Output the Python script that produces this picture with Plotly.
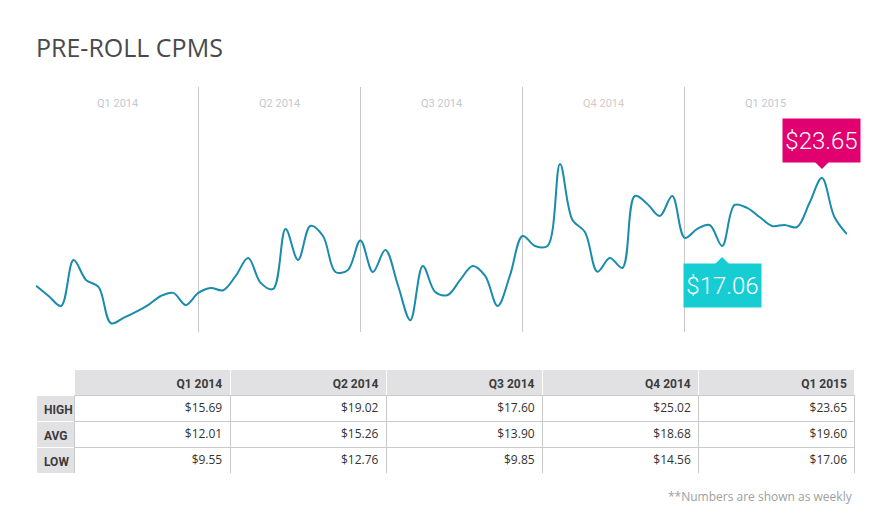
import plotly.graph_objects as go

# weekly pre-roll CPM, 13 weeks per quarter, Q1 2014 .. Q1 2015
weekly_cpm = [
    13.18, 12.20, 11.23, 15.69, 13.76, 13.08, 9.55, 10.07, 10.65, 11.33, 12.20, 12.50, 11.33,
    12.50, 12.98, 12.76, 14.15, 15.89, 13.47, 12.88, 18.71, 15.70, 19.02, 18.03, 14.53, 14.73,
    17.60, 14.53, 16.67, 13.27, 9.85, 15.12, 12.59, 12.30, 13.76, 15.12, 14.15, 11.23, 14.24,
    18.03, 17.06, 17.06, 25.02, 19.58, 18.42, 14.56, 15.89, 14.92, 21.91, 21.14, 19.97, 21.91,
    17.84, 18.71, 19.10, 17.06, 21.04, 20.75, 19.87, 19.00, 19.10, 18.90, 21.23, 23.65, 19.87,
    18.22,
]
weeks = list(range(len(weekly_cpm)))
quarter_starts = [0, 13, 26, 39, 52, 65]

quarters = ["Q1 2014", "Q2 2014", "Q3 2014", "Q4 2014", "Q1 2015"]
high = [15.69, 19.02, 17.60, 25.02, 23.65]
avg = [12.01, 15.26, 13.90, 18.68, 19.60]
low = [9.55, 12.76, 9.85, 14.56, 17.06]
row_labels = ["HIGH", "AVG", "LOW"]

W, H = 893, 532
FONT = "Roboto, Liberation Sans, sans-serif"
SANS = "Open Sans, Noto Sans, sans-serif"
PINK = "#e0006f"
CYAN = "#17cdd4"
GREY = "#e1e1e3"
RULE = "#cacaca"

fig = go.Figure()

fig.add_trace(go.Scatter(
    x=weeks, y=weekly_cpm, mode="lines",
    line=dict(color="#1a8cab", width=2, shape="spline", smoothing=1),
    hoverinfo="skip", showlegend=False,
))

# summary table, one table row per trace so each row keeps a 26px height
TOP, ROW_H = 369, 26
table_rows = [[""] + [f"<b>{q}</b>" for q in quarters]]
for i, label in enumerate(row_labels):
    vals = [high, avg, low][i]
    table_rows.append([f"<b>{label}</b>"] + [f"${v:.2f}" for v in vals])

for r, row in enumerate(table_rows):
    is_head = r == 0
    y_top = TOP + r * ROW_H
    fig.add_trace(go.Table(
        domain=dict(x=[36 / W, 855 / W], y=[(H - y_top - ROW_H) / H, (H - y_top) / H]),
        columnwidth=[38] + [156] * 5,
        header=dict(
            values=[[v] for v in row],
            fill_color=(["white"] + [GREY] * 5) if is_head else ([GREY] + ["white"] * 5),
            line=dict(color=["white"] * 6 if is_head else ["white"] + [RULE] * 5, width=1),
            align=["left"] + ["right"] * 5,
            height=ROW_H,
            font=dict(family=[FONT] + ([FONT] if is_head else [SANS]) * 5,
                      size=[12] + ([12] if is_head else [12]) * 5,
                      color=["#3b3b3b"] + (["#3b3b3b"] if is_head else ["#333333"]) * 5),
        ),
        cells=dict(values=[[] for _ in row], height=1),
    ))

# quarter labels at the top of the plot area
q_colors = ["#c4c8cf", "#c4c8cf", "#c4c8cf", "#d6cac6", "#c4c8cf"]
for i, q in enumerate(quarters):
    fig.add_annotation(
        x=(quarter_starts[i] + quarter_starts[i + 1]) / 2, xref="x",
        y=(H - 103) / H, yref="paper", yanchor="middle", text=q, showarrow=False,
        font=dict(family=FONT, size=11, color=q_colors[i]),
    )

# callouts for the Q1 2015 high and low
hi_idx = weekly_cpm.index(high[-1])
lo_idx = 52 + weekly_cpm[52:].index(low[-1])
fig.add_annotation(
    x=hi_idx, y=weekly_cpm[hi_idx], text=f"${high[-1]:.2f}", showarrow=False,
    yanchor="bottom", yshift=15, width=77, height=43, borderpad=0,
    bgcolor=PINK, font=dict(family=FONT, size=24, weight=300, color="white"),
)
fig.add_annotation(
    x=lo_idx, y=weekly_cpm[lo_idx], text=f"${low[-1]:.2f}", showarrow=False,
    yanchor="top", yshift=-17, width=77, height=43, borderpad=0,
    bgcolor=CYAN, font=dict(family=FONT, size=24, weight=300, color="white"),
)
fig.add_shape(
    type="path", xref="x", yref="y", xsizemode="pixel", ysizemode="pixel",
    xanchor=hi_idx, yanchor=weekly_cpm[hi_idx],
    path="M -7,16 L 7,16 L 0,9 Z", fillcolor=PINK, line=dict(width=0),
)
fig.add_shape(
    type="path", xref="x", yref="y", xsizemode="pixel", ysizemode="pixel",
    xanchor=lo_idx, yanchor=weekly_cpm[lo_idx],
    path="M -7,-18 L 7,-18 L 0,-11 Z", fillcolor=CYAN, line=dict(width=0),
)

fig.add_annotation(
    x=855 / W, xref="paper", xanchor="right", y=(H - 496) / H, yref="paper", yanchor="middle",
    text="**Numbers are shown as weekly", showarrow=False,
    font=dict(family=SANS, size=12, color="#a0a0a0"),
)

fig.update_layout(
    width=W, height=H,
    margin=dict(l=0, r=0, t=0, b=0),
    paper_bgcolor="white", plot_bgcolor="white",
    title=dict(text="PRE-ROLL CPMS", x=36 / W, xanchor="left", y=(H - 48) / H, yanchor="middle",
               font=dict(family=SANS, size=25, color="#4a4a4c")),
    xaxis=dict(domain=[36 / W, 847 / W], range=[-0.01, 65.01], tickvals=quarter_starts,
               showgrid=True, gridcolor="#c8c8c8", gridwidth=1, showticklabels=False,
               zeroline=False, ticks=""),
    yaxis=dict(domain=[(H - 332) / H, (H - 87) / H], range=[8.7, 32.5],
               showgrid=False, showticklabels=False, zeroline=False),
    showlegend=False,
)

fig.write_html("out.html", config={"displayModeBar": False},
               post_script="document.body.style.margin = '0px';")
